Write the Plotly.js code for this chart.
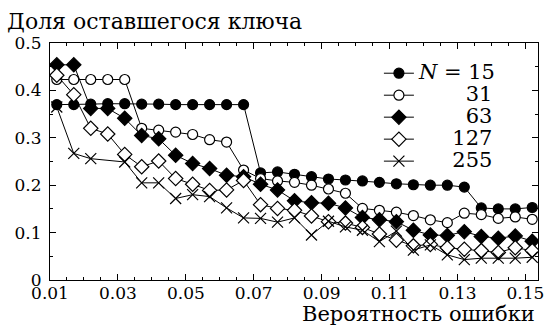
<!DOCTYPE html>
<html><head><meta charset="utf-8">
<script src="https://cdn.plot.ly/plotly-3.0.1.min.js"></script>
<style>body{margin:0;background:#fff}#chart{width:545px;height:329px}</style>
</head><body><div id="chart"></div>
<script>
const errorProb = [0.012,0.017,0.022,0.027,0.032,0.037,0.042,0.047,0.052,0.057,0.062,0.067,0.072,0.077,0.082,0.087,0.092,0.097,0.102,0.107,0.112,0.117,0.122,0.127,0.132,0.137,0.142,0.147,0.152];
const n15  = [0.370,0.370,0.371,0.372,0.372,0.371,0.371,0.370,0.370,0.370,0.370,0.370,0.226,0.228,0.223,0.218,0.213,0.211,0.209,0.206,0.203,0.201,0.200,0.200,0.196,0.152,0.150,0.150,0.153];
const n31  = [0.423,0.423,0.423,0.423,0.423,0.320,0.316,0.312,0.307,0.296,0.291,0.232,0.214,0.209,0.206,0.200,0.192,0.183,0.151,0.147,0.143,0.136,0.127,0.121,0.141,0.138,0.130,0.133,0.128];
const n63  = [0.454,0.454,0.362,0.362,0.341,0.305,0.298,0.263,0.246,0.235,0.221,0.218,0.202,0.190,0.167,0.163,0.162,0.152,0.132,0.127,0.123,0.105,0.095,0.094,0.102,0.092,0.088,0.093,0.082];
const n127 = [0.432,0.391,0.320,0.308,0.265,0.239,0.251,0.214,0.202,0.189,0.190,0.210,0.159,0.151,0.147,0.135,0.123,0.120,0.111,0.097,0.084,0.072,0.075,0.068,0.065,0.062,0.058,0.068,0.062];
const n255 = [0.365,0.267,0.256,null,0.249,0.205,0.205,0.172,0.180,0.176,0.152,0.131,0.130,0.122,0.131,0.095,0.124,0.112,0.105,0.081,0.103,0.063,0.074,0.053,0.043,0.046,0.046,0.046,0.048];
const seriesLabels = ['<i>N</i> = 15', '\u2007\u2007\u2007\u200831', '\u2007\u2007\u2007\u200863', '\u2007\u2007\u2008127', '\u2007\u2007\u2008255'];
const seriesData = [n15, n31, n63, n127, n255];
const symbols = ['circle', 'circle', 'diamond', 'diamond', 'x-thin-open'];
const fills = ['#000', '#fff', '#000', '#fff', '#000'];
const sizes = [10, 10, 11, 11, 11];

const FONT = 'DejaVu Serif';
const traces = seriesData.map((ys, k) => ({
  x: errorProb, y: ys, type: 'scatter', mode: 'lines+markers',
  name: '<span style="font-size:21px">' + seriesLabels[k] + '</span>',
  connectgaps: true,
  line: {color: '#000', width: 1},
  marker: {symbol: symbols[k], size: sizes[k], color: fills[k], line: {color: '#000', width: 1.2}}
}));

const axisBase = {
  showline: true, linecolor: '#000', linewidth: 1, mirror: 'ticks',
  ticks: 'inside', ticklen: 6, tickwidth: 1, tickcolor: '#000',
  showgrid: false, zeroline: false,
  tickfont: {family: FONT, size: 17, color: '#000'}
};

const layout = {
  width: 545, height: 329,
  margin: {l: 50, r: 7, t: 43, b: 49},
  paper_bgcolor: '#fff', plot_bgcolor: '#fff',
  font: {family: FONT, color: '#000'},
  title: {text: 'Доля оставшегося ключа', font: {family: FONT, size: 22, color: '#000'},
          x: 7/545, xanchor: 'left', xref: 'container', y: 1 - 21/329, yanchor: 'middle', yref: 'container'},
  xaxis: Object.assign({}, axisBase, {
    range: [0.01, 0.1537], tick0: 0.01, dtick: 0.02, tickformat: '.2f', ticklabelstandoff: -2,
    minor: {tick0: 0.01, dtick: 0.005, ticks: 'inside', ticklen: 3, tickcolor: '#000', showgrid: false}
  }),
  yaxis: Object.assign({}, axisBase, {
    range: [0, 0.5], tick0: 0, dtick: 0.1, ticklabelstandoff: 4,
    minor: {tick0: 0, dtick: 0.05, ticks: 'inside', ticklen: 3, tickcolor: '#000', showgrid: false}
  }),
  showlegend: true,
  legend: {x: 0.674, y: 0.94, xanchor: 'left', yanchor: 'top', bgcolor: 'rgba(0,0,0,0)',
           font: {family: FONT, size: 14.6, color: '#000'}, tracegroupgap: 0, itemwidth: 30},
  annotations: [{
    text: 'Вероятность ошибки', xref: 'paper', yref: 'paper', x: 0.997, y: 0, yshift: -34,
    xanchor: 'right', yanchor: 'middle', showarrow: false, font: {family: FONT, size: 21, color: '#000'}
  }]
};

Plotly.newPlot('chart', traces, layout, {staticPlot: true, displayModeBar: false});
</script></body></html>
